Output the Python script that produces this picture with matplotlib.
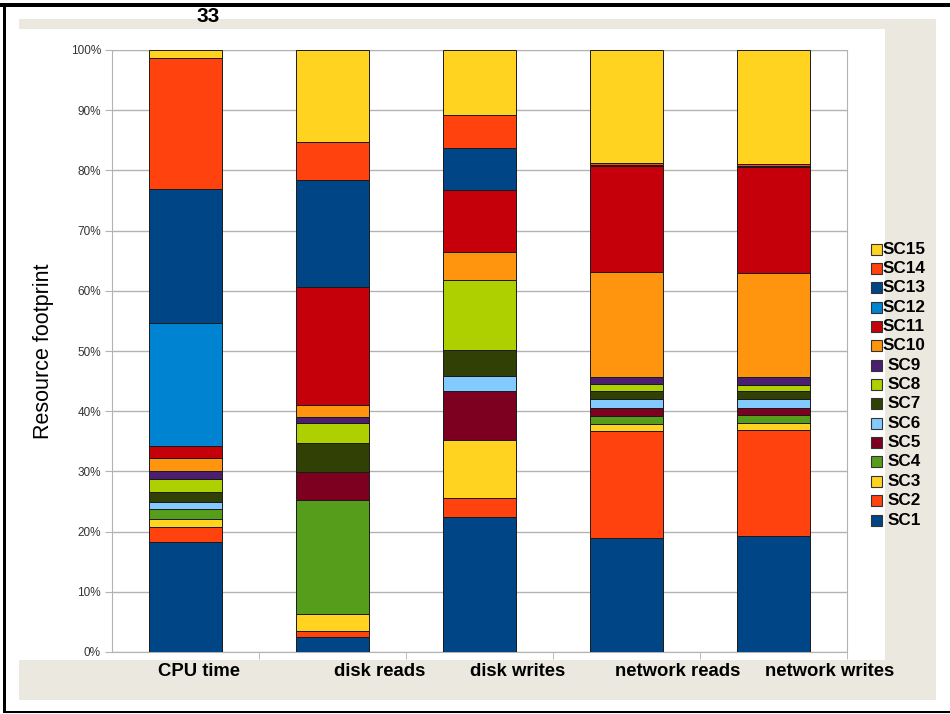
import matplotlib.pyplot as plt
from matplotlib.patches import Rectangle
import numpy as np

plt.rcParams['font.family'] = ['Liberation Sans', 'DejaVu Sans']

categories = ["CPU time", "disk reads", "disk writes", "network reads", "network writes"]
series = ["SC1", "SC2", "SC3", "SC4", "SC5", "SC6", "SC7", "SC8",
          "SC9", "SC10", "SC11", "SC12", "SC13", "SC14", "SC15"]

# percent share of each series, per category (bottom -> top)
sc1 = [18.2, 2.5, 22.5, 19.0, 19.3]
sc2 = [2.5, 1.0, 3.0, 17.7, 17.6]
sc3 = [1.4, 2.8, 9.7, 1.2, 1.1]
sc4 = [1.7, 18.9, 0.0, 1.3, 1.3]
sc5 = [0.0, 4.7, 8.2, 1.3, 1.3]
sc6 = [1.1, 0.0, 2.4, 1.5, 1.4]
sc7 = [1.7, 4.8, 4.4, 1.4, 1.4]
sc8 = [2.1, 3.4, 11.6, 1.1, 1.0]
sc9 = [1.4, 0.9, 0.0, 1.2, 1.2]
sc10 = [2.2, 2.1, 4.7, 17.4, 17.3]
sc11 = [2.0, 19.6, 10.2, 17.6, 17.6]
sc12 = [20.4, 0.0, 0.0, 0.0, 0.0]
sc13 = [22.2, 17.7, 7.0, 0.2, 0.3]
sc14 = [21.7, 6.4, 5.5, 0.3, 0.3]
sc15 = [1.4, 15.2, 10.8, 18.8, 18.9]

values = [sc1, sc2, sc3, sc4, sc5, sc6, sc7, sc8, sc9, sc10, sc11, sc12, sc13, sc14, sc15]
colors = ["#004586", "#ff420e", "#ffd320", "#579d1c", "#7e0021", "#83caff", "#314004",
          "#aecf00", "#4b1f6f", "#ff950e", "#c5000b", "#0084d1", "#004586", "#ff420e", "#ffd320"]

W, H = 950, 714

def fx(x):
    return x / W

def fy(y):
    return 1 - y / H

fig = plt.figure(figsize=(9.5, 7.14), dpi=100)
fig.patch.set_facecolor("white")

# beige frame and white chart area
fig.add_artist(Rectangle((fx(19), fy(700)), 917 / W, 681 / H, transform=fig.transFigure,
                         facecolor="#ebe9df", edgecolor="none", zorder=-3))
fig.add_artist(Rectangle((fx(19), fy(660)), 866 / W, 631 / H, transform=fig.transFigure,
                         facecolor="white", edgecolor="none", zorder=-2))
# black border (top, left, bottom)
fig.add_artist(Rectangle((0, fy(7)), 1, 4 / H, transform=fig.transFigure,
                         facecolor="black", edgecolor="none", zorder=5))
fig.add_artist(Rectangle((fx(3), fy(713)), 2.5 / W, 710 / H, transform=fig.transFigure,
                         facecolor="black", edgecolor="none", zorder=5))
fig.add_artist(Rectangle((fx(3), fy(713)), 1, 2.5 / H, transform=fig.transFigure,
                         facecolor="black", edgecolor="none", zorder=5))

ax = fig.add_axes([112 / W, 62 / H, 735 / W, 602 / H])
ax.set_facecolor("white")

x = np.arange(len(categories))
bottom = np.zeros(len(categories))
for name, vals, col in zip(series, values, colors):
    ax.bar(x, vals, width=0.5, bottom=bottom, color=col, edgecolor="#1a1a1a",
           linewidth=0.7, label=name, zorder=3)
    bottom += np.array(vals)

ax.set_xlim(-0.5, 4.5)
ax.set_ylim(0, 100)
ax.set_yticks(np.arange(0, 101, 10))
ax.set_yticklabels([f"{v}%" for v in range(0, 101, 10)], fontsize=8.5, color="#333333")
ax.yaxis.grid(True, color="#b3b3b3", linewidth=1, zorder=0)
ax.tick_params(axis="y", length=5, color="#b3b3b3", pad=3)

ax.set_xticks([])
ax.set_xticks(np.arange(0.5, 4.6, 1), minor=True)
ax.tick_params(axis="x", which="minor", length=5, color="#b3b3b3", labelbottom=False)
for s in ax.spines.values():
    s.set_color("#b3b3b3")

label_x = [0.09, 1.32, 2.26, 3.35, 4.38]
for lx, name in zip(label_x, categories):
    ax.text(lx, -3.3, name, ha="center", va="center", fontsize=13.3,
            fontweight="bold", clip_on=False)

ax.set_ylabel("Resource footprint", fontsize=15.5, labelpad=12)

fig.text(fx(208), fy(16), "33", ha="center", va="center", fontsize=15, fontweight="bold")

# legend, top entry SC15 down to SC1
for i, (name, col) in enumerate(zip(series[::-1], colors[::-1])):
    yc = 249 + i * 19.36
    fig.add_artist(Rectangle((fx(871), fy(yc + 5.5)), 11 / W, 11 / H, transform=fig.transFigure,
                             facecolor=col, edgecolor="#333333", linewidth=0.8, zorder=4))
    fig.text(fx(904), fy(yc), name, ha="center", va="center", fontsize=12.3, fontweight="bold")

fig.savefig("out.png", dpi=100)
